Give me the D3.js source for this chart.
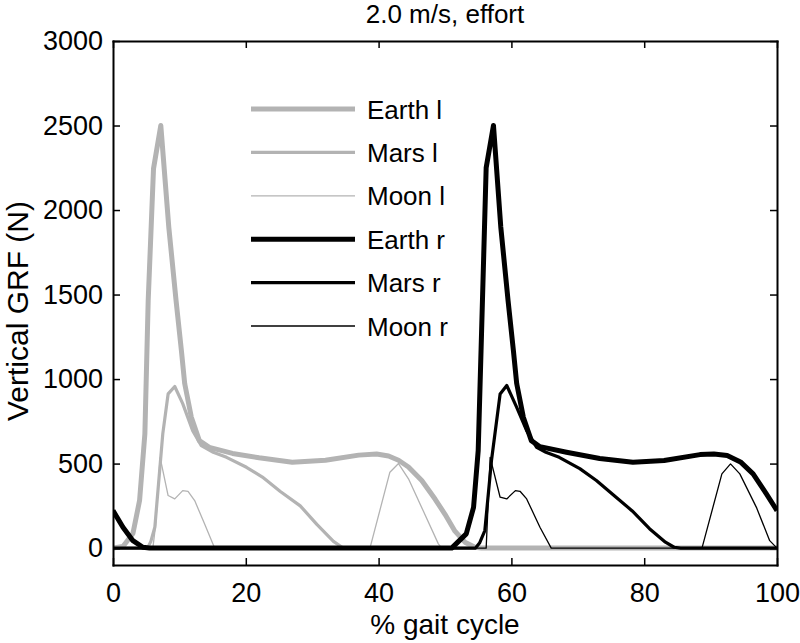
<!DOCTYPE html>
<html>
<head>
<meta charset="utf-8">
<script src="https://cdn.jsdelivr.net/npm/d3@7"></script>
<style>
  html, body { margin: 0; padding: 0; background: #fff; }
  svg text { font-family: "Liberation Sans", Arial, Helvetica, sans-serif; fill: #000; }
</style>
</head>
<body>
<div id="chart"></div>
<script>
// values: [% gait cycle, vertical GRF (N)]
const earthL = [[0,0],[1.5,9],[3,86],[4,281],[4.8,676],[5.3,1464],[6.1,2244],[7.2,2500],[8.4,1900],[9.5,1464],
  [10.3,1169],[10.8,973],[11.8,774],[13,636],[14.5,596],[18,560],[22,534],[27,508],[32,520],[37,550],
  [39.7,557],[41.5,545],[43,520],[44.5,480],[46.5,400],[48.5,290],[50,200],[51.5,100],[53,35],[54.5,5],[55.5,0],[100,0]];
const marsL = [[0,0],[5.2,0],[5.7,40],[6.3,123],[7.5,677],[8.3,912],[9.3,956],[10.5,855],[12,695],[13.3,606],
  [15.1,567],[17.1,537],[20.1,478],[22.5,420],[25.2,335],[28.2,250],[30.7,140],[33.2,40],[34.5,5],[35.5,0],[100,0]];
const moonL = [[0,0],[6,0],[6.4,130],[7.1,535],[8.3,311],[9.3,291],[10.5,340],[11.3,336],[12.3,281],[13.8,143],
  [15.3,0],[38.7,0],[41.7,449],[43,500],[44.5,410],[46.7,222],[49,25],[49.5,0],[100,0]];
const earthR = [[0,222],[1.5,123],[3,44],[4.5,5],[5.5,0],[51,0],[53.2,84],[54.3,241],[55,577],[55.5,1267],
  [56.2,2250],[57.3,2500],[58.4,1900],[59.5,1464],[60.3,1169],[60.8,973],[61.8,774],[63,636],[64.3,600],
  [68.3,567],[73.3,530],[78.3,508],[83,518],[88.4,553],[90.5,557],[92.5,548],[94.5,510],[96.4,439],[98.4,321],[100,222]];
const marsR = [[0,0],[54.6,0],[55.2,30],[56,104],[57,518],[58.3,912],[59.3,962],[60.8,833],[62.3,695],[63.8,596],
  [65.2,567],[67.2,537],[70.3,470],[72.8,400],[75.5,310],[78.2,220],[80.8,115],[83.2,35],[84.5,5],[85.5,0],[100,0]];
const moonR = [[0,0],[56.2,0],[56.8,537],[58.3,301],[59.3,291],[60.6,340],[61.3,336],[62.3,291],[64.3,123],
  [66,0],[88.7,0],[91.7,439],[93,498],[94.4,439],[96.9,241],[98.9,44],[100,0]];

const seriesNames = ["Earth l", "Mars l", "Moon l", "Earth r", "Mars r", "Moon r"];
const seriesData = [earthL, marsL, moonL, earthR, marsR, moonR];
const seriesColor = ["#b3b3b3", "#b3b3b3", "#b3b3b3", "#000000", "#000000", "#000000"];
const seriesWidth = [5, 3.2, 1.3, 5, 3.2, 1.3];

const xTicks = [0, 20, 40, 60, 80, 100];
const yTicks = [0, 500, 1000, 1500, 2000, 2500, 3000];

const width = 800, height = 643;
const margin = { top: 41, right: 23, bottom: 78, left: 113 };
const x0 = margin.left, x1 = width - margin.right;
const y0 = height - margin.bottom, y1 = margin.top;

const svg = d3.select("#chart").append("svg")
  .attr("width", width)
  .attr("height", height);

const x = d3.scaleLinear().domain([0, 100]).range([x0, x1]);
const y = d3.scaleLinear().domain([-100, 3000]).range([y0, y1]);

svg.append("defs").append("clipPath").attr("id", "plotclip")
  .append("rect")
  .attr("x", x0).attr("y", y1)
  .attr("width", x1 - x0).attr("height", y0 - y1);

// data lines
const line = d3.line().x(d => x(d[0])).y(d => y(d[1]));
svg.append("g")
  .attr("clip-path", "url(#plotclip)")
  .selectAll("path")
  .data(seriesData)
  .join("path")
  .attr("d", line)
  .attr("fill", "none")
  .attr("stroke", (d, i) => seriesColor[i])
  .attr("stroke-width", (d, i) => seriesWidth[i])
  .attr("stroke-linejoin", "round");

// axes (ticks point inward, box all round)
const styleAxis = g => {
  g.select(".domain").attr("stroke", "#000").attr("stroke-width", 2);
  g.selectAll(".tick line").attr("stroke", "#000").attr("stroke-width", 1.5);
  g.selectAll("text").attr("font-size", 27).attr("fill", "#000");
};

svg.append("g")
  .attr("transform", `translate(0,${y0})`)
  .call(d3.axisBottom(x).tickValues(xTicks).tickFormat(d3.format("d"))
    .tickSizeInner(-7).tickSizeOuter(0).tickPadding(18))
  .call(styleAxis);

svg.append("g")
  .attr("transform", `translate(0,${y1})`)
  .call(d3.axisTop(x).tickValues(xTicks).tickSizeInner(-7).tickSizeOuter(0).tickFormat(""))
  .call(styleAxis);

svg.append("g")
  .attr("transform", `translate(${x0},0)`)
  .call(d3.axisLeft(y).tickValues(yTicks).tickFormat(d3.format("d"))
    .tickSizeInner(-7).tickSizeOuter(0).tickPadding(10))
  .call(styleAxis);

svg.append("g")
  .attr("transform", `translate(${x1},0)`)
  .call(d3.axisRight(y).tickValues(yTicks).tickSizeInner(-7).tickSizeOuter(0).tickFormat(""))
  .call(styleAxis);

svg.selectAll(".domain").attr("stroke-linecap", "square");

// labels
svg.append("text")
  .attr("x", (x0 + x1) / 2).attr("y", 23)
  .attr("text-anchor", "middle")
  .attr("font-size", 26)
  .text("2.0 m/s, effort");

svg.append("text")
  .attr("x", (x0 + x1) / 2).attr("y", 634)
  .attr("text-anchor", "middle")
  .attr("font-size", 28)
  .text("% gait cycle");

svg.append("text")
  .attr("transform", `translate(28,${(y0 + y1) / 2 + 8}) rotate(-90)`)
  .attr("text-anchor", "middle")
  .attr("font-size", 30)
  .text("Vertical GRF (N)");

// legend
const legend = svg.append("g").attr("transform", "translate(251,109)");
const rows = legend.selectAll("g")
  .data(seriesNames)
  .join("g")
  .attr("transform", (d, i) => `translate(0,${i * 43.4})`);

rows.append("line")
  .attr("x1", 0).attr("x2", 104)
  .attr("stroke", (d, i) => seriesColor[i])
  .attr("stroke-width", (d, i) => seriesWidth[i]);

rows.append("text")
  .attr("x", 116).attr("y", 9.5)
  .attr("font-size", 26)
  .text(d => d);
</script>
</body>
</html>
